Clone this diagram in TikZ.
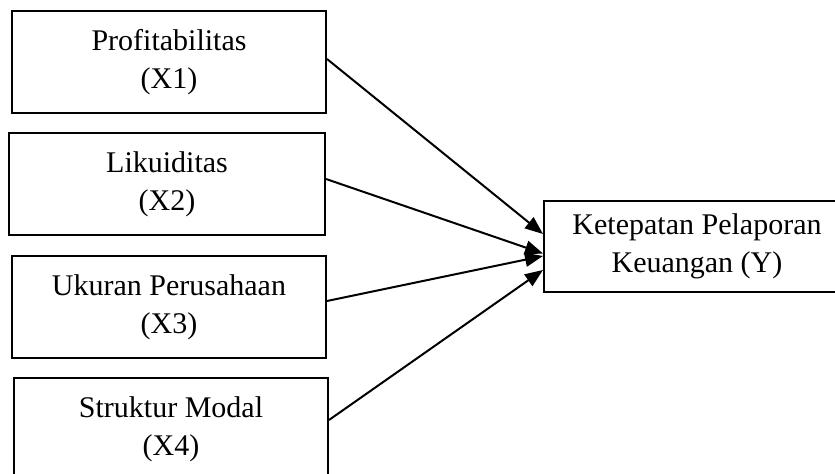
\documentclass[tikz,border=0pt]{standalone}
\usepackage{fontspec}
\setmainfont{Liberation Serif}
\usetikzlibrary{arrows.meta, positioning}

\begin{document}
\begin{tikzpicture}[x=0.5pt, y=-0.5pt,
    varbox/.style={draw, line width=1pt, align=center, inner sep=0pt,
        minimum width=157pt, minimum height=51pt,
        font=\fontsize{15}{19}\selectfont},
    arrow/.style={line width=1pt, -{Triangle[length=9pt,width=7pt]}}]
    \useasboundingbox (0,0) rectangle (835,474);

    % Variabel independen
    \node[varbox] (x1) at (169,62) {Profitabilitas\\(X1)};
    \node[varbox, minimum width=158pt] (x2) at (167,184.5) {Likuiditas\\(X2)};
    \node[varbox] (x3) at (169,307) {Ukuran Perusahaan\\(X3)};
    \node[varbox] (x4) at (171,429.5) {Struktur Modal\\(X4)};

    % Variabel dependen
    \node[varbox, minimum width=153pt, minimum height=45.5pt] (y) at (697,246.5)
        {Ketepatan Pelaporan\\Keuangan (Y)};

    % Panah pengaruh
    \draw[arrow] ([yshift=1.5pt]x1.east) -- ([yshift=6.25pt]y.west);
    \draw[arrow] ([yshift=2.75pt]x2.east) -- ([yshift=-3.5pt]y.west);
    \draw[arrow] ([yshift=3pt]x3.east) -- ([yshift=-4.75pt]y.west);
    \draw[arrow] ([yshift=4.75pt]x4.east) -- ([yshift=-11.75pt]y.west);
\end{tikzpicture}
\end{document}
